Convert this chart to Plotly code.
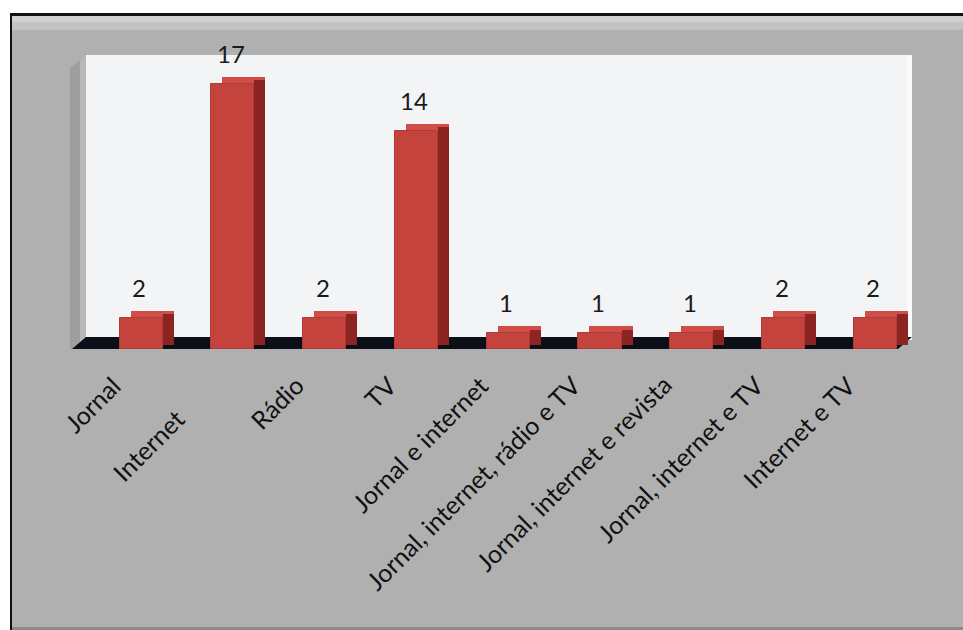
import plotly.graph_objects as go

categories = ["Jornal", "Internet", "Rádio", "TV", "Jornal e internet",
              "Jornal, internet, rádio e TV", "Jornal, internet e revista",
              "Jornal, internet e TV", "Internet e TV"]
values = [2, 17, 2, 14, 1, 1, 1, 2, 2]
label_row = [0, 1, 0, 0, 0, 0, 0, 0, 0]  # Excel staggered the "Internet" label

# pixel geometry of the figure
FW, FH = 963, 630
L, R, T, B = 86, 912, 55, 349
W, H = R - L, B - T


def px(x):
    return (x - L) / W


def py(y):
    return (B - y) / H


def poly(pts):
    return "M " + " L ".join(f"{px(a):.5f},{py(b):.5f}" for a, b in pts) + " Z"


FONT = "Lato"
RED = "#c4433d"
RED_TOP = "#cf4f48"
RED_SIDE = "#8c2521"
BW, DX, DY = 0.47, 0.12, 0.45   # bar width, 3D depth (category units / value units)

fig = go.Figure()
# top face (back prism)
fig.add_trace(go.Bar(x=categories, y=values, base=DY, width=BW, offset=-BW / 2 + DX,
                     marker=dict(color=RED_TOP, line=dict(width=0)),
                     hoverinfo="skip", showlegend=False))
# right side face
fig.add_trace(go.Bar(x=categories, y=values, base=DY / 2, width=DX, offset=BW / 2,
                     marker=dict(color=RED_SIDE, line=dict(width=0)),
                     hoverinfo="skip", showlegend=False))
# front face
fig.add_trace(go.Bar(x=categories, y=values, width=BW, offset=-BW / 2,
                     marker=dict(color=RED, line=dict(color="#b03a35", width=1)),
                     showlegend=False))

shapes = []
def rect(x0, y0, x1, y1, color):
    shapes.append(dict(type="rect", xref="paper", yref="paper", layer="below",
                       x0=px(x0), x1=px(x1), y0=py(y1), y1=py(y0),
                       fillcolor=color, line=dict(width=0)))

# outer white margin
rect(-20, -20, FW + 20, 14, "white")
rect(-20, -20, 10, FH + 20, "white")
# top bevel of the gray frame
rect(12, 16, FW + 20, 22, "#d0d0d0")
rect(12, 22, FW + 20, 30, "#c2c2c2")
# frame border lines
rect(10, 13, FW + 20, 16, "#111111")
rect(10, 13, 12, FH + 20, "#111111")
rect(12, FH - 3, FW + 20, FH + 20, "#8a8a8a")
# left wall
shapes.append(dict(type="path", xref="paper", yref="paper", layer="below",
                   path=poly([(70, 68), (86, 55), (86, 349), (70, 349)]),
                   fillcolor="#9e9e9e", line=dict(width=0)))
shapes.append(dict(type="path", xref="paper", yref="paper", layer="below",
                   path=poly([(80, 60), (86, 55), (86, 349), (80, 349)]),
                   fillcolor="#b8b8b8", line=dict(width=0)))
# back wall (plot area)
rect(86, 55, 912, 340, "#f3f4f6")
rect(907, 55, 912, 340, "#fafafa")
# floor
shapes.append(dict(type="path", xref="paper", yref="paper", layer="below",
                   path=poly([(72, 349), (86, 337), (912, 337), (898, 349)]),
                   fillcolor="#0b1018", line=dict(width=0)))

annotations = []
for c, v in zip(categories, values):
    annotations.append(dict(x=c, y=v, xref="x", yref="y", text=str(v),
                            showarrow=False, yanchor="bottom", yshift=14, xshift=-2,
                            font=dict(family=FONT, size=24, color="#1a1a1a")))
for c, r in zip(categories, label_row):
    annotations.append(dict(x=c, y=py(367 + 33 * r), xref="x", yref="paper", text=c,
                            showarrow=False, textangle=-45, xanchor="right", yanchor="top",
                            xshift=-12 - 28 * r,
                            font=dict(family=FONT, size=25, color="#111111")))

fig.update_layout(
    width=FW, height=FH,
    margin=dict(l=L, r=FW - R, t=T, b=FH - B, pad=0),
    paper_bgcolor="#b0b0b0",
    plot_bgcolor="rgba(0,0,0,0)",
    barmode="overlay",
    bargap=0,
    shapes=shapes,
    annotations=annotations,
    xaxis=dict(type="category", range=[-0.6, 8.4], showticklabels=False,
               showgrid=False, zeroline=False, showline=False, ticks=""),
    yaxis=dict(range=[0, 18.85], showticklabels=False, showgrid=False,
               zeroline=False, showline=False, ticks=""),
    showlegend=False,
)

fig.write_html("out.html", config={"displayModeBar": False},
               post_script="document.body.style.margin='0';")
